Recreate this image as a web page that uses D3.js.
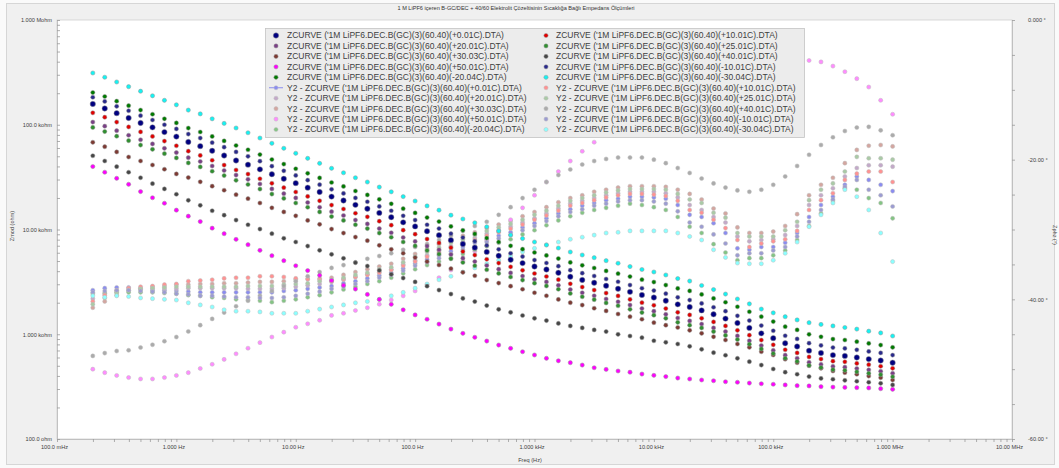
<!DOCTYPE html>
<html>
<head>
<meta charset="utf-8">
<script src="https://cdn.jsdelivr.net/npm/d3@7"></script>
<style>
  body { margin: 0; background: #fafafa; }
  svg { display: block; }
  text { font-family: "Liberation Sans", Arial, sans-serif; }
</style>
</head>
<body>
<svg id="chart" width="1059" height="468"></svg>
<script>
// Sweep frequencies (Hz), 10 points per decade, 0.2 Hz .. 1 MHz
const freqHz = [0.1995, 0.2512, 0.3162, 0.3981, 0.5012, 0.631, 0.7943, 1, 1.259, 1.585,
  1.995, 2.512, 3.162, 3.981, 5.012, 6.31, 7.943, 10, 12.59, 15.85,
  19.95, 25.12, 31.62, 39.81, 50.12, 63.1, 79.43, 100, 125.9, 158.5,
  199.5, 251.2, 316.2, 398.1, 501.2, 631, 794.3, 1000, 1259, 1585,
  1995, 2512, 3162, 3981, 5012, 6310, 7943, 10000, 12590, 15850,
  19950, 25120, 31620, 39810, 50120, 63100, 79430, 100000, 125900, 158500,
  199500, 251200, 316200, 398100, 501200, 631000, 794300, 1000000];

// Impedance modulus (ohm) per temperature
const zmodP0 = [158000,143000,129000,116000,104000,94400,85100,77100,68500,62500,
  56400,50800,45600,41600,37500,33700,30500,27700,25100,22800,
  20600,18900,17200,15800,14400,13100,11700,10700,9620,8830,
  7910,7260,6710,6110,5610,5140,4780,4430,4150,3860,
  3540,3300,3100,2900,2720,2540,2370,2240,2090,1930,
  1820,1690,1550,1410,1280,1150,1020,918,820,764,
  697,662,632,621,600,579,561,535];
const zmodP10 = [130000,118000,106000,95300,85500,77400,69800,63000,56000,50900,
  45800,41200,37000,33800,30500,27600,25100,22800,20700,18800,
  17100,15700,14300,13200,12000,11000,9860,9020,8110,7450,
  6700,6150,5700,5200,4780,4400,4080,3800,3560,3320,
  3030,2820,2640,2470,2320,2150,2000,1890,1760,1620,
  1530,1420,1310,1200,1090,979,879,793,711,664,
  607,579,553,545,527,512,495,473];
const zmodP20 = [106000,97000,87700,79400,71900,65600,59600,54200,48500,44600,
  40400,36600,33100,30100,27200,24400,22000,20000,18100,16300,
  14800,13600,12300,11300,10200,9310,8390,7690,6950,6400,
  5770,5320,4940,4530,4180,3850,3590,3350,3160,2930,
  2670,2490,2330,2170,2040,1900,1760,1660,1550,1430,
  1340,1250,1150,1060,964,867,780,701,631,590,
  540,515,493,485,471,457,443,424];
const zmodP25 = [94200,86100,77800,70500,64000,58300,53000,48200,43200,39600,
  36000,32700,29500,26900,24300,21800,19800,17900,16300,14700,
  13300,12200,11100,10200,9250,8430,7600,6970,6310,5820,
  5250,4840,4510,4130,3810,3520,3290,3070,2890,2690,
  2450,2280,2140,1990,1870,1730,1610,1520,1420,1300,
  1220,1150,1060,975,891,804,724,655,590,551,
  504,481,459,452,438,424,411,393];
const zmodP30 = [68000,61700,55000,49200,45100,41300,37600,33900,31300,28500,
  25900,23700,21500,19700,17900,16100,14700,13500,12200,11200,
  10100,9250,8470,7820,7060,6470,5930,5400,4940,4580,
  4230,3900,3620,3290,3080,2880,2690,2490,2330,2150,
  2000,1900,1770,1670,1560,1470,1390,1290,1220,1160,
  1090,1020,946,881,807,750,681,634,577,535,
  501,473,446,430,415,399,385,366];
const zmodP40 = [50600,45100,39800,35200,31200,27400,24400,21700,19000,17000,
  15100,13700,12300,11100,10100,9120,8240,7600,6950,6320,
  5790,5310,4820,4480,4070,3730,3440,3160,2880,2640,
  2420,2200,2050,1880,1730,1620,1510,1420,1350,1270,
  1200,1150,1100,1060,998,962,927,867,838,807,
  767,718,667,630,589,547,508,466,434,415,
  394,379,372,363,356,348,340,328];
const zmodP50 = [39900,35200,30800,27000,23000,20100,17800,15300,13400,11900,
  10300,9120,8050,7160,6320,5620,5040,4510,4050,3650,
  3260,2930,2700,2400,2150,1930,1710,1530,1390,1250,
  1120,1020,935,861,789,734,681,634,589,558,
  535,508,479,462,446,434,417,405,394,382,
  374,366,360,352,348,342,337,333,328,323,
  321,316,313,311,309,307,302,298];
const zmodM10 = [183000,167000,150000,136000,122000,111000,100000,91200,81500,74600,
  67500,61100,55000,49900,44900,40200,36300,32800,29600,26800,
  24200,22100,20000,18400,16600,15100,13500,12300,11100,10200,
  9120,8380,7730,7050,6470,5930,5510,5110,4790,4470,
  4090,3830,3600,3370,3170,2950,2750,2610,2440,2250,
  2120,1970,1810,1660,1500,1350,1210,1080,968,902,
  822,782,746,733,710,685,664,632];
const zmodM20 = [203000,186000,168000,152000,138000,126000,114000,104000,92900,85300,
  77300,70100,63400,57700,51900,46600,42100,38000,34400,31100,
  28100,25800,23300,21400,19400,17600,15800,14400,13000,11900,
  10700,9820,9080,8280,7600,6980,6490,6030,5650,5280,
  4850,4550,4290,4020,3790,3550,3320,3150,2950,2740,
  2590,2400,2200,2020,1830,1640,1470,1320,1180,1100,
  998,946,899,881,849,818,789,750];
const zmodM30 = [312000,284000,256000,231000,209000,189000,171000,155000,138000,127000,
  114000,103000,93100,83900,74700,66500,59600,53400,47800,42800,
  38400,34800,31200,28400,25400,22900,20600,18700,16800,15300,
  13700,12600,11600,10600,9670,8860,8200,7600,7110,6660,
  6100,5710,5380,5040,4760,4430,4150,3930,3680,3400,
  3220,2920,2670,2420,2170,1950,1740,1600,1470,1370,
  1290,1240,1200,1160,1120,1070,1030,962];

// Impedance phase (degrees) per temperature
const zphzP0 = [-38.7,-38.4,-38.3,-38.3,-38.4,-38.7,-38.7,-38.8,-38.9,-39.0,
  -39.0,-39.0,-39.0,-39.0,-39.0,-39.0,-38.8,-38.7,-38.5,-38.3,
  -38.1,-37.7,-37.4,-37.0,-36.6,-36.2,-35.6,-34.9,-34.3,-33.7,
  -33.1,-32.5,-31.9,-31.4,-30.9,-30.4,-29.7,-29.1,-28.4,-27.7,
  -27.1,-26.6,-26.2,-25.8,-25.6,-25.3,-25.3,-25.4,-25.6,-26.5,
  -27.9,-28.2,-29.1,-30.5,-32.7,-32.9,-32.5,-32.5,-31.9,-30.5,
  -28.2,-26.5,-25.3,-23.6,-22.4,-22.9,-23.6,-24.5];
const zphzP10 = [-40.3,-39.4,-38.7,-38.4,-38.2,-38.1,-37.9,-37.8,-37.4,-37.3,
  -37.2,-37.0,-36.9,-36.9,-36.7,-36.7,-36.8,-37.0,-37.1,-37.2,
  -37.4,-37.1,-36.8,-36.5,-36.2,-35.8,-35.2,-34.6,-33.9,-33.3,
  -32.6,-32.1,-31.5,-30.9,-30.4,-29.9,-29.3,-28.6,-28.0,-27.3,
  -26.6,-26.2,-25.8,-25.4,-25.1,-24.9,-24.9,-25.0,-25.2,-25.9,
  -27.2,-27.6,-28.6,-29.8,-31.5,-32.5,-32.0,-31.7,-31.4,-30.2,
  -27.2,-25.8,-24.8,-22.9,-22.0,-21.7,-21.7,-23.2];
const zphzP20 = [-39.9,-39.2,-38.9,-38.7,-38.6,-38.5,-38.5,-38.5,-38.4,-38.4,
  -38.4,-38.4,-38.4,-38.5,-38.5,-38.5,-38.4,-38.2,-38.0,-37.8,
  -37.5,-37.2,-36.8,-36.4,-36.1,-35.7,-35.0,-34.4,-33.7,-33.0,
  -32.4,-31.8,-31.2,-30.6,-30.1,-29.6,-29.0,-28.4,-27.7,-27.0,
  -26.3,-25.9,-25.5,-25.1,-24.8,-24.6,-24.6,-24.6,-24.8,-25.4,
  -26.5,-27.2,-28.2,-29.0,-31.0,-31.7,-31.5,-31.4,-30.8,-29.5,
  -26.5,-25.1,-24.1,-22.4,-21.2,-20.8,-20.8,-21.0];
const zphzP25 = [-40.7,-39.8,-39.1,-38.7,-38.5,-38.4,-38.3,-38.2,-38.2,-38.2,
  -38.2,-38.2,-38.2,-38.1,-38.1,-38.1,-37.9,-37.8,-37.7,-37.4,
  -37.2,-36.9,-36.5,-36.2,-35.7,-35.4,-34.7,-33.9,-33.2,-32.6,
  -31.9,-31.4,-30.8,-30.2,-29.7,-29.2,-28.6,-27.9,-27.3,-26.6,
  -25.9,-25.5,-25.1,-24.7,-24.4,-24.2,-24.2,-24.2,-24.3,-24.9,
  -25.7,-26.2,-27.6,-28.3,-30.5,-31.0,-31.0,-31.0,-30.1,-28.9,
  -25.8,-24.3,-23.4,-21.7,-19.6,-19.8,-19.8,-20.0];
const zphzP30 = [-41.2,-40.3,-39.4,-38.8,-38.5,-38.2,-38.1,-37.9,-37.9,-37.8,
  -37.8,-37.7,-37.7,-37.6,-37.5,-37.5,-37.4,-37.2,-37.1,-37.0,
  -36.9,-36.5,-36.1,-35.7,-35.3,-34.9,-34.2,-33.5,-32.8,-32.1,
  -31.5,-30.9,-30.4,-29.8,-29.3,-28.8,-28.1,-27.5,-26.8,-26.1,
  -25.5,-25.1,-24.6,-24.3,-24.0,-23.8,-23.8,-23.8,-23.9,-24.3,
  -24.9,-25.7,-27.0,-27.7,-29.7,-30.5,-30.5,-30.3,-29.5,-27.8,
  -25.1,-23.6,-22.6,-20.5,-18.6,-18.0,-17.9,-18.1];
const zphzP40 = [-48.1,-47.7,-47.4,-47.3,-46.9,-46.5,-46.0,-45.4,-44.6,-43.7,
  -42.8,-41.9,-41.0,-40.2,-39.5,-38.8,-38.1,-37.4,-36.7,-36.1,
  -35.5,-35.1,-34.7,-34.2,-33.8,-33.4,-32.9,-32.5,-32.1,-31.5,
  -30.9,-30.2,-29.5,-28.9,-27.9,-26.8,-25.5,-24.3,-23.2,-22.2,
  -21.4,-20.7,-20.2,-19.9,-19.7,-19.7,-19.7,-20.0,-20.5,-21.2,
  -21.9,-22.7,-23.4,-24.0,-24.4,-24.6,-24.3,-23.6,-22.4,-20.9,
  -19.3,-17.9,-16.8,-15.9,-15.4,-15.3,-15.8,-16.5];
const zphzP50 = [-50.0,-50.5,-50.9,-51.2,-51.4,-51.4,-51.2,-50.9,-50.5,-49.9,
  -49.3,-48.6,-47.8,-47.0,-46.2,-45.4,-44.7,-44.0,-43.5,-43.0,
  -42.3,-42.0,-41.6,-41.2,-40.7,-40.1,-39.5,-38.8,-37.9,-36.9,
  -35.8,-34.5,-33.1,-31.6,-30.2,-28.6,-26.9,-25.1,-23.2,-21.7,
  -20.2,-18.8,-17.5,-16.3,-15.2,-14.0,-13.0,-12.0,-11.2,-10.3,
  -9.6,-8.9,-8.3,-7.7,-7.2,-6.7,-6.3,-6.0,-5.9,-5.8,
  -5.8,-6.0,-6.6,-7.4,-8.4,-9.6,-11.5,-13.5];
const zphzM10 = [-39.0,-38.8,-38.7,-38.7,-38.8,-38.9,-39.0,-39.2,-39.3,-39.5,
  -39.5,-39.6,-39.7,-39.7,-39.8,-39.8,-39.7,-39.5,-39.2,-38.9,
  -38.5,-38.2,-37.8,-37.4,-36.9,-36.5,-35.9,-35.2,-34.7,-34.1,
  -33.5,-32.9,-32.4,-31.8,-31.3,-30.8,-30.1,-29.5,-28.8,-28.1,
  -27.5,-27.1,-26.6,-26.3,-26.0,-25.8,-25.8,-26.0,-26.3,-27.4,
  -29.0,-29.6,-30.7,-32.0,-33.7,-33.4,-33.4,-33.0,-32.5,-31.0,
  -28.9,-27.2,-25.7,-23.9,-22.9,-24.3,-25.1,-26.7];
const zphzM20 = [-39.2,-39.1,-39.0,-39.0,-39.0,-39.0,-39.1,-39.2,-39.4,-39.5,
  -39.7,-39.8,-40.0,-40.1,-40.2,-40.4,-40.2,-40.0,-39.7,-39.4,
  -39.0,-38.6,-38.2,-37.8,-37.4,-36.9,-36.3,-35.7,-35.1,-34.6,
  -34.1,-33.5,-32.9,-32.4,-31.9,-31.4,-30.7,-30.1,-29.4,-28.7,
  -28.1,-27.6,-27.2,-26.9,-26.6,-26.3,-26.5,-26.8,-27.2,-28.2,
  -29.6,-30.5,-32.1,-33.3,-34.4,-34.1,-34.1,-33.7,-33.0,-31.5,
  -29.5,-27.7,-25.9,-24.1,-24.3,-25.5,-26.2,-28.4];
const zphzM30 = [-39.5,-39.7,-39.5,-39.6,-39.8,-39.9,-40.0,-40.1,-40.5,-40.8,
  -41.1,-41.5,-41.7,-41.7,-41.8,-42.0,-42.0,-42.0,-41.7,-41.4,
  -41.1,-40.8,-40.5,-40.3,-40.0,-39.5,-39.0,-38.4,-37.8,-37.2,
  -36.7,-36.1,-35.5,-34.9,-34.4,-33.8,-33.2,-32.7,-32.2,-31.8,
  -31.4,-31.1,-30.8,-30.5,-30.4,-30.2,-30.2,-30.2,-30.2,-30.5,
  -31.0,-31.5,-32.9,-34.0,-34.8,-34.9,-34.9,-34.4,-33.4,-31.8,
  -29.6,-27.9,-26.2,-24.3,-25.3,-27.2,-30.5,-34.6];

// Axis tick labels
const freqTickValues = [0.1, 1, 10, 100, 1000, 10000, 100000, 1000000, 10000000];
const freqTickLabels = ["100.0 mHz", "1.000 Hz", "10.00 Hz", "100.0 Hz", "1.000 kHz", "10.00 kHz", "100.0 kHz", "1.000 MHz", "10.00 MHz"];
const zmodTickValues = [100, 1000, 10000, 100000, 1000000];
const zmodTickLabels = ["100.0 ohm", "1.000 kohm", "10.00 kohm", "100.0 kohm", "1.000 Mohm"];
const zphzTickValues = [-60, -40, -20, 0];
const zphzTickLabels = ["-60.00 \u00b0", "-40.00 \u00b0", "-20.00 \u00b0", "0.000 \u00b0"];

// Temperature tags of the data files, in legend order (left column, then right column)
const tempsLeft = ["+0.01C", "+20.01C", "+30.03C", "+50.01C", "-20.04C"];
const tempsRight = ["+10.01C", "+25.01C", "+40.01C", "-10.01C", "-30.04C"];

const chartTitle = "1 M LiPF6 i\u00e7eren B-GC/DEC + 40/60 Elektrolit \u00c7\u00f6zeltisinin S\u0131cakl\u0131\u011fa Ba\u011fl\u0131 Empedans \u00d6l\u00e7\u00fcmleri";

// Per-temperature series table (modulus + phase, marker colours)
const series = {
  "+0.01C":  { zmod: zmodP0,  zphz: zphzP0,  c: "#000080", c2: "#8a8cf0", r: 2.7 },
  "+20.01C": { zmod: zmodP20, zphz: zphzP20, c: "#7a3f86", c2: "#c3a9c9", r: 2.1 },
  "+30.03C": { zmod: zmodP30, zphz: zphzP30, c: "#7d3a33", c2: "#d4a6a0", r: 2.1 },
  "+50.01C": { zmod: zmodP50, zphz: zphzP50, c: "#ff00ff", c2: "#ff8cff", r: 2.1 },
  "-20.04C": { zmod: zmodM20, zphz: zphzM20, c: "#007a00", c2: "#84c484", r: 2.1 },
  "+10.01C": { zmod: zmodP10, zphz: zphzP10, c: "#e00000", c2: "#ff9292", r: 2.1 },
  "+25.01C": { zmod: zmodP25, zphz: zphzP25, c: "#2f8f2f", c2: "#aacaa6", r: 2.1 },
  "+40.01C": { zmod: zmodP40, zphz: zphzP40, c: "#464646", c2: "#ababab", r: 2.1 },
  "-10.01C": { zmod: zmodM10, zphz: zphzM10, c: "#2a2a8c", c2: "#9c9cd2", r: 2.1 },
  "-30.04C": { zmod: zmodM30, zphz: zphzM30, c: "#16f2f2", c2: "#8cffff", r: 2.1 }
};
const order = tempsLeft.concat(tempsRight);

const svg = d3.select("#chart");
const plot = { x0: 57, x1: 1012, y0: 20, y1: 439 };
const textCol = "#404040";

// window frame and plot background
svg.append("rect").attr("x", 6.5).attr("y", 3.5).attr("width", 1048).attr("height", 461)
  .attr("fill", "#f0f0f0").attr("stroke", "#d6d6d6");
svg.append("rect").attr("x", plot.x0).attr("y", plot.y0)
  .attr("width", plot.x1 - plot.x0).attr("height", plot.y1 - plot.y0)
  .attr("fill", "#ffffff").attr("stroke", "#cfcfcf").attr("stroke-width", 0.8);

const x = d3.scaleLog().domain([0.1, 1e7]).range([plot.x0, plot.x1]);
const yMod = d3.scaleLog().domain([1e2, 1e6]).range([plot.y1, plot.y0]);
const yPhz = d3.scaleLinear().domain([-60, 0]).range([plot.y1, plot.y0]);

function logTicks(lo, hi) {
  const t = [];
  for (let e = lo; e < hi; e++) for (let m = 1; m < 10; m++) t.push(m * Math.pow(10, e));
  t.push(Math.pow(10, hi));
  return t;
}
function styleAxis(g) {
  g.attr("font-size", null).attr("font-family", null);
  g.select(".domain").attr("stroke", "#b8b8b8").attr("stroke-width", 0.8);
  g.selectAll(".tick line").attr("stroke", "#9a9a9a").attr("stroke-width", 0.8);
  g.selectAll(".tick text").attr("fill", textCol).style("font-size", "5.6px");
}

// bottom frequency axis
svg.append("g").attr("transform", `translate(0,${plot.y1})`)
  .call(d3.axisBottom(x).tickValues(logTicks(-1, 7)).tickSize(3).tickSizeOuter(0).tickPadding(3)
    .tickFormat(v => { const i = freqTickValues.indexOf(v); return i >= 0 ? freqTickLabels[i] : ""; }))
  .call(styleAxis)
  .call(g => g.selectAll(".tick text").attr("dx", -3));

// left modulus axis (ticks inside the plot)
svg.append("g").attr("transform", `translate(${plot.x0},0)`)
  .call(d3.axisLeft(yMod).tickValues(logTicks(2, 6)).tickSize(-3).tickSizeOuter(0).tickPadding(5)
    .tickFormat(v => { const i = zmodTickValues.indexOf(v); return i >= 0 ? zmodTickLabels[i] : ""; }))
  .call(styleAxis);

// right phase axis
svg.append("g").attr("transform", `translate(${plot.x1},0)`)
  .call(d3.axisRight(yPhz).tickValues(d3.range(-60, 1, 5)).tickSize(3).tickSizeOuter(0).tickPadding(13)
    .tickFormat(v => { const i = zphzTickValues.indexOf(v); return i >= 0 ? zphzTickLabels[i] : ""; }))
  .call(styleAxis);

// titles
svg.append("text").attr("x", 516).attr("y", 10).attr("text-anchor", "middle")
  .attr("fill", "#333").style("font-size", "5.6px").text(chartTitle);
svg.append("text").attr("x", 530).attr("y", 462).attr("text-anchor", "middle")
  .attr("fill", textCol).style("font-size", "5.6px").text("Freq (Hz)");
svg.append("text").attr("transform", "translate(14,226) rotate(-90)").attr("text-anchor", "middle")
  .attr("fill", textCol).style("font-size", "5.6px").text("Zmod (ohm)");
svg.append("text").attr("transform", "translate(1053,235) rotate(90)").attr("text-anchor", "middle")
  .attr("fill", textCol).style("font-size", "5.6px").text("Zphz (\u00b0)");

const ring = "rgba(150,150,150,0.55)";
const ringLight = "rgba(190,190,190,0.55)";

// phase markers (right axis)
order.forEach(t => {
  const s = series[t];
  svg.append("g").selectAll("circle")
    .data(s.zphz.map((v, i) => [freqHz[i], v]))
    .join("circle")
    .attr("cx", d => x(d[0])).attr("cy", d => yPhz(d[1]))
    .attr("r", 2.05).attr("fill", s.c2).attr("stroke", ringLight).attr("stroke-width", 0.9);
});

// modulus markers (left axis)
order.forEach(t => {
  const s = series[t];
  svg.append("g").selectAll("circle")
    .data(s.zmod.map((v, i) => [freqHz[i], v]))
    .join("circle")
    .attr("cx", d => x(d[0])).attr("cy", d => yMod(d[1]))
    .attr("r", s.r).attr("fill", s.c).attr("stroke", ring).attr("stroke-width", 0.9);
});

// legend
const lg = svg.append("g");
lg.append("rect").attr("x", 265.5).attr("y", 28.5).attr("width", 539).attr("height", 109)
  .attr("fill", "#ececec").attr("stroke", "#c4c4c4").attr("stroke-width", 0.8);
const fileName = t => `('1M LiPF6.DEC.B(GC)(3)(60.40)(${t}).DTA)`;
[[tempsLeft, 276, 287], [tempsRight, 546, 556]].forEach(([temps, mx, tx]) => {
  temps.forEach((t, i) => {
    const s = series[t];
    const yM = 35.5 + i * 10.45;
    const yP = 35.5 + (i + 5) * 10.45;
    lg.append("circle").attr("cx", mx).attr("cy", yM).attr("r", s.r)
      .attr("fill", s.c).attr("stroke", ring).attr("stroke-width", 0.9);
    lg.append("text").attr("x", tx).attr("y", yM + 2.9).attr("fill", textCol)
      .style("font-size", "8.5px").text("ZCURVE " + fileName(t));
    if (t === "+0.01C") {
      lg.append("line").attr("x1", mx - 7).attr("x2", mx + 7).attr("y1", yP).attr("y2", yP)
        .attr("stroke", s.c2).attr("stroke-width", 1);
    }
    lg.append("circle").attr("cx", mx).attr("cy", yP).attr("r", 2.05)
      .attr("fill", s.c2).attr("stroke", ringLight).attr("stroke-width", 0.9);
    lg.append("text").attr("x", tx).attr("y", yP + 2.9).attr("fill", textCol)
      .style("font-size", "8.5px").text("Y2 - ZCURVE " + fileName(t));
  });
});
</script>
</body>
</html>
